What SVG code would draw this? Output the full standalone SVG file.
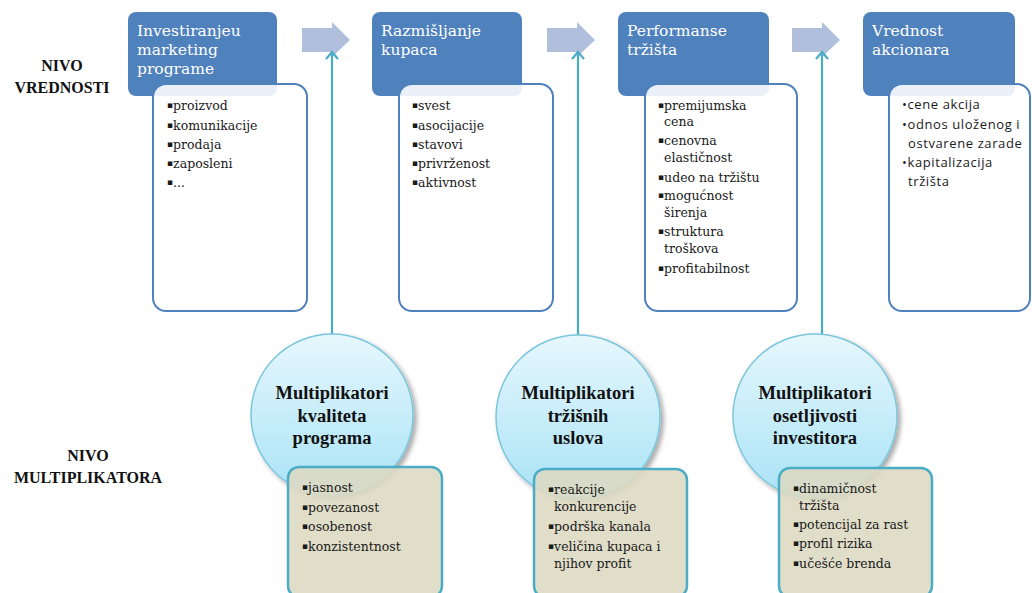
<svg xmlns="http://www.w3.org/2000/svg" width="1032" height="593" viewBox="0 0 1032 593">
  <defs>
    <linearGradient id="bubble" x1="0" y1="0" x2="0" y2="1">
      <stop offset="0" stop-color="#e6f7fd"/>
      <stop offset="1" stop-color="#a9e3f6"/>
    </linearGradient>
    <filter id="shadow" x="-20%" y="-20%" width="150%" height="150%">
      <feGaussianBlur in="SourceAlpha" stdDeviation="2.5"/>
      <feOffset dx="3" dy="3" result="b"/>
      <feComponentTransfer><feFuncA type="linear" slope="0.35"/></feComponentTransfer>
      <feMerge><feMergeNode/><feMergeNode in="SourceGraphic"/></feMerge>
    </filter>
    <!-- open chevron head, drawn pointing along +x so orient="auto" turns it upward -->
    <marker id="open" viewBox="0 0 12 14" refX="10" refY="7" markerWidth="12" markerHeight="14" markerUnits="userSpaceOnUse" orient="auto">
      <path d="M3,1 L10,7 L3,13" fill="none" stroke="#4bacc6" stroke-width="2.2"/>
    </marker>
  </defs>
  <style>
    .head { fill: #4f81bd; }
    .headtxt { font-family: "DejaVu Serif", "Liberation Serif", serif; font-size: 15.5px; fill: #ffffff; }
    .card { fill: #ffffff; fill-opacity: 0.88; stroke: #4f81bd; stroke-width: 2; }
    .item { font-family: "DejaVu Serif", "Liberation Serif", serif; font-size: 12.5px; fill: #1a1a1a; }
    .b { font-size: 9px; baseline-shift: 2px; }
    .itemsans { font-family: "Open Sans", "Liberation Sans", sans-serif; font-size: 13px; letter-spacing: 0.6px; fill: #1a1a1a; }
    .level { font-family: "Liberation Serif", serif; font-size: 16px; font-weight: bold; fill: #111; text-anchor: middle; }
    .bubble { fill: url(#bubble); stroke: #7cc6dd; stroke-width: 1.5; }
    .bubtxt { font-family: "Liberation Serif", serif; font-size: 18.5px; font-weight: bold; fill: #111; text-anchor: middle; }
    .tan { fill: #ddd9c3; fill-opacity: 0.9; stroke: #4bacc6; stroke-width: 2.5; }
    .flow { fill: #b0c0dc; }
    .link { stroke: #4bacc6; stroke-width: 2.2; fill: none; }
  </style>

  <rect width="1032" height="593" fill="#ffffff"/>

  <!-- level labels -->
  <text class="level" x="62" y="71">NIVO</text>
  <text class="level" x="62" y="93">VREDNOSTI</text>
  <text class="level" x="88" y="461">NIVO</text>
  <text class="level" x="88" y="483">MULTIPLIKATORA</text>

  <!-- block arrows between stages -->
  <g id="flow-arrows">
    <path class="flow" d="M302,28 H332 V22 L350,40 L332,57 V52 H302 Z"/>
    <path class="flow" d="M547,28 H577 V22 L595,40 L577,57 V52 H547 Z"/>
    <path class="flow" d="M792,28 H822 V22 L840,40 L822,57 V52 H792 Z"/>
  </g>

  <!-- connectors from multipliers up to the flow -->
  <g id="connectors">
    <line class="link" x1="332" y1="336" x2="332" y2="52" marker-end="url(#open)"/>
    <line class="link" x1="578" y1="336" x2="578" y2="52" marker-end="url(#open)"/>
    <line class="link" x1="822" y1="336" x2="822" y2="52" marker-end="url(#open)"/>
  </g>

  <!-- stage 1 -->
  <g id="stage-investiranje">
    <rect class="head" x="128" y="12" width="149" height="84" rx="8"/>
    <text class="headtxt"><tspan x="137" y="36">Investiranjeu</tspan><tspan x="137" y="55">marketing</tspan><tspan x="137" y="74">programe</tspan></text>
    <rect class="card" x="153" y="84" width="154" height="227" rx="13"/>
    <text class="item">
      <tspan x="167" y="110"><tspan class="b">▪</tspan>proizvod</tspan>
      <tspan x="167" y="130"><tspan class="b">▪</tspan>komunikacije</tspan>
      <tspan x="167" y="149"><tspan class="b">▪</tspan>prodaja</tspan>
      <tspan x="167" y="168"><tspan class="b">▪</tspan>zaposleni</tspan>
      <tspan x="167" y="187"><tspan class="b">▪</tspan>...</tspan>
    </text>
  </g>

  <!-- stage 2 -->
  <g id="stage-razmisljanje">
    <rect class="head" x="372" y="12" width="150" height="84" rx="8"/>
    <text class="headtxt"><tspan x="381" y="36">Razmišljanje</tspan><tspan x="381" y="55">kupaca</tspan></text>
    <rect class="card" x="399" y="84" width="154" height="227" rx="13"/>
    <text class="item">
      <tspan x="412" y="110"><tspan class="b">▪</tspan>svest</tspan>
      <tspan x="412" y="130"><tspan class="b">▪</tspan>asocijacije</tspan>
      <tspan x="412" y="149"><tspan class="b">▪</tspan>stavovi</tspan>
      <tspan x="412" y="168"><tspan class="b">▪</tspan>privrženost</tspan>
      <tspan x="412" y="187"><tspan class="b">▪</tspan>aktivnost</tspan>
    </text>
  </g>

  <!-- stage 3 -->
  <g id="stage-performanse">
    <rect class="head" x="618" y="12" width="151" height="84" rx="8"/>
    <text class="headtxt"><tspan x="627" y="36">Performanse</tspan><tspan x="627" y="55">tržišta</tspan></text>
    <rect class="card" x="645" y="84" width="152" height="227" rx="13"/>
    <text class="item">
      <tspan x="658" y="110"><tspan class="b">▪</tspan>premijumska</tspan>
      <tspan x="664" y="126">cena</tspan>
      <tspan x="658" y="145"><tspan class="b">▪</tspan>cenovna</tspan>
      <tspan x="664" y="162">elastičnost</tspan>
      <tspan x="658" y="182"><tspan class="b">▪</tspan>udeo na tržištu</tspan>
      <tspan x="658" y="200"><tspan class="b">▪</tspan>mogućnost</tspan>
      <tspan x="664" y="217">širenja</tspan>
      <tspan x="658" y="236"><tspan class="b">▪</tspan>struktura</tspan>
      <tspan x="664" y="253">troškova</tspan>
      <tspan x="658" y="273"><tspan class="b">▪</tspan>profitabilnost</tspan>
    </text>
  </g>

  <!-- stage 4 -->
  <g id="stage-vrednost">
    <rect class="head" x="863" y="12" width="152" height="84" rx="8"/>
    <text class="headtxt"><tspan x="872" y="36">Vrednost</tspan><tspan x="872" y="55">akcionara</tspan></text>
    <rect class="card" x="889" y="84" width="141" height="227" rx="13"/>
    <text class="itemsans">
      <tspan x="902" y="109">•cene akcija</tspan>
      <tspan x="902" y="129">•odnos uloženog i</tspan>
      <tspan x="908" y="148">ostvarene zarade</tspan>
      <tspan x="902" y="167">•kapitalizacija</tspan>
      <tspan x="908" y="186">tržišta</tspan>
    </text>
  </g>

  <!-- multiplier 1 -->
  <g id="mult-kvalitet">
    <circle class="bubble" cx="332" cy="415" r="81" filter="url(#shadow)"/>
    <text class="bubtxt"><tspan x="332" y="399">Multiplikatori</tspan><tspan x="332" y="422">kvaliteta</tspan><tspan x="332" y="444">programa</tspan></text>
    <rect class="tan" x="288" y="467" width="154" height="130" rx="11"/>
    <text class="item">
      <tspan x="302" y="492"><tspan class="b">▪</tspan>jasnost</tspan>
      <tspan x="302" y="512"><tspan class="b">▪</tspan>povezanost</tspan>
      <tspan x="302" y="531"><tspan class="b">▪</tspan>osobenost</tspan>
      <tspan x="302" y="551"><tspan class="b">▪</tspan>konzistentnost</tspan>
    </text>
  </g>

  <!-- multiplier 2 -->
  <g id="mult-trziste">
    <circle class="bubble" cx="578" cy="417" r="82" filter="url(#shadow)"/>
    <text class="bubtxt"><tspan x="578" y="399">Multiplikatori</tspan><tspan x="578" y="422">tržišnih</tspan><tspan x="578" y="444">uslova</tspan></text>
    <rect class="tan" x="534" y="469" width="153" height="128" rx="11"/>
    <text class="item">
      <tspan x="548" y="494"><tspan class="b">▪</tspan>reakcije</tspan>
      <tspan x="554" y="511">konkurencije</tspan>
      <tspan x="548" y="531"><tspan class="b">▪</tspan>podrška kanala</tspan>
      <tspan x="548" y="551"><tspan class="b">▪</tspan>veličina kupaca i</tspan>
      <tspan x="554" y="568">njihov profit</tspan>
    </text>
  </g>

  <!-- multiplier 3 -->
  <g id="mult-investitori">
    <circle class="bubble" cx="815" cy="416" r="82" filter="url(#shadow)"/>
    <text class="bubtxt"><tspan x="815" y="399">Multiplikatori</tspan><tspan x="815" y="422">osetljivosti</tspan><tspan x="815" y="444">investitora</tspan></text>
    <rect class="tan" x="779" y="468" width="153" height="129" rx="11"/>
    <text class="item">
      <tspan x="793" y="493"><tspan class="b">▪</tspan>dinamičnost</tspan>
      <tspan x="799" y="510">tržišta</tspan>
      <tspan x="793" y="529"><tspan class="b">▪</tspan>potencijal za rast</tspan>
      <tspan x="793" y="548"><tspan class="b">▪</tspan>profil rizika</tspan>
      <tspan x="793" y="568"><tspan class="b">▪</tspan>učešće brenda</tspan>
    </text>
  </g>
</svg>
